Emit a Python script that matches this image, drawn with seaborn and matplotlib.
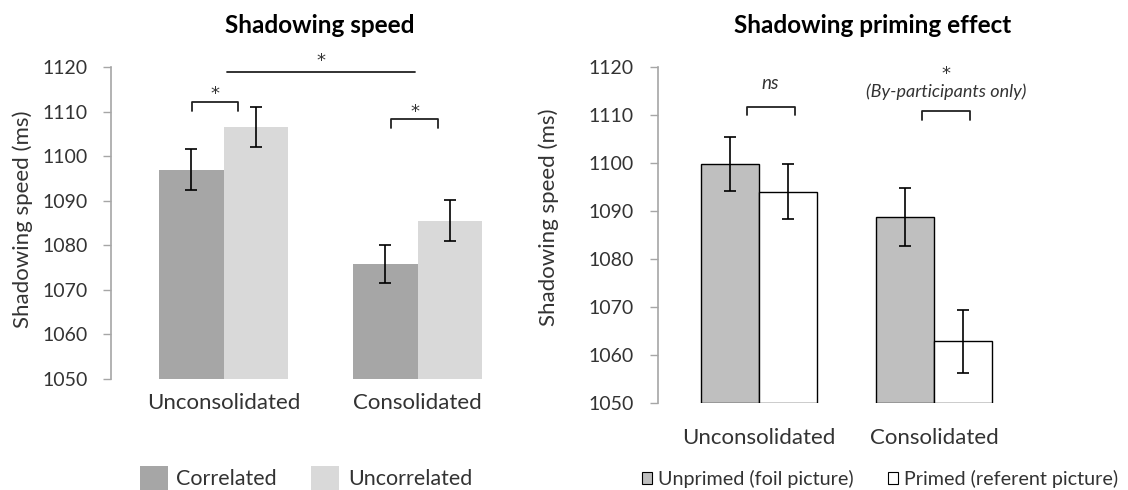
import matplotlib
matplotlib.use("Agg")
import matplotlib.pyplot as plt
from matplotlib.patches import Patch
import seaborn as sns
import pandas as pd

# ---------------- data ----------------
categories = ["Unconsolidated", "Consolidated"]

left_groups = ["Correlated", "Uncorrelated"]
left_correlated = [1097.0, 1075.8]
left_uncorrelated = [1106.5, 1085.5]
left_correlated_err = [4.7, 4.3]
left_uncorrelated_err = [4.5, 4.6]

right_groups = ["Unprimed (foil picture)", "Primed (referent picture)"]
right_unprimed = [1099.7, 1088.7]
right_primed = [1094.0, 1062.9]
right_unprimed_err = [5.6, 6.0]
right_primed_err = [5.7, 6.5]

y_ticks = [1050, 1060, 1070, 1080, 1090, 1100, 1110, 1120]

# ---------------- style ----------------
sns.set_style("ticks")
plt.rcParams["font.family"] = ["Lato", "DejaVu Sans"]
TXT = "#333333"
SPINE = "#a6a6a6"

fig = plt.figure(figsize=(11.28, 4.90), dpi=100)
axL = fig.add_axes([0.0984, 0.2265, 0.3715, 0.6367])
axR = fig.add_axes([0.5830, 0.1769, 0.3348, 0.6870])

dfL = pd.DataFrame({
    "cat": categories * 2,
    "grp": [left_groups[0]] * 2 + [left_groups[1]] * 2,
    "val": left_correlated + left_uncorrelated,
})
errL = [left_correlated_err, left_uncorrelated_err]

dfR = pd.DataFrame({
    "cat": categories * 2,
    "grp": [right_groups[0]] * 2 + [right_groups[1]] * 2,
    "val": right_unprimed + right_primed,
})
errR = [right_unprimed_err, right_primed_err]

palL = {left_groups[0]: "#a6a6a6", left_groups[1]: "#d9d9d9"}
palR = {right_groups[0]: "#bfbfbf", right_groups[1]: "#ffffff"}

sns.barplot(data=dfL, x="cat", y="val", hue="grp", order=categories,
            hue_order=left_groups, palette=palL, saturation=1, width=0.667,
            errorbar=None, legend=False, ax=axL, linewidth=0)
sns.barplot(data=dfR, x="cat", y="val", hue="grp", order=categories,
            hue_order=right_groups, palette=palR, saturation=1, width=0.667,
            errorbar=None, legend=False, ax=axR, edgecolor="black", linewidth=1.0)


def finish(ax, errs, base, xlim, pad):
    for cont, err in zip(ax.containers, errs):
        xs, ys = [], []
        for p in cont.patches:
            h = p.get_height()
            p.set_y(base)
            p.set_height(h - base)
            xs.append(p.get_x() + p.get_width() / 2)
            ys.append(h)
        ax.errorbar(xs, ys, yerr=err, fmt="none", ecolor="black",
                    elinewidth=1.2, capsize=4.5, capthick=1.2, zorder=5)
    ax.set_ylim(1050, 1120)
    ax.set_xlim(*xlim)
    ax.set_yticks(y_ticks)
    ax.set_yticklabels([str(t) for t in y_ticks], fontsize=14, color=TXT)
    ax.tick_params(axis="y", length=6, width=1, color=SPINE, pad=11)
    ax.tick_params(axis="x", length=0, pad=pad, labelsize=16, labelcolor=TXT)
    for s in ["top", "right", "bottom"]:
        ax.spines[s].set_visible(False)
    ax.spines["left"].set_color(SPINE)
    ax.spines["left"].set_linewidth(1.2)
    ax.set_xlabel("")


finish(axL, errL, 1050, (-0.58, 1.58), 10)
finish(axR, errR, 1050, (-0.579, 1.579), 18)

axL.set_ylabel("Shadowing speed (ms)", fontsize=16, color=TXT)
axR.set_ylabel("Shadowing speed (ms)", fontsize=16, color=TXT)
axL.yaxis.set_label_coords(-0.186, 0.513)
axR.yaxis.set_label_coords(-0.262, 0.554)

axL.text(0.499, 1.109, "Shadowing speed", transform=axL.transAxes, ha="center",
         va="baseline", fontsize=17.5, fontweight="bold", color="black")
axR.text(0.568, 1.099, "Shadowing priming effect", transform=axR.transAxes,
         ha="center", va="baseline", fontsize=17.5, fontweight="bold", color="black")

LK = dict(color="#222222", lw=1.3, clip_on=False)
STAR = dict(ha="center", va="baseline", fontsize=13, color=TXT, clip_on=False,
            family="DejaVu Sans")


def bracket(ax, x0, x1, ytop, ylow):
    ax.plot([x0, x0, x1, x1], [ylow, ytop, ytop, ylow], **LK)


# left annotations
bracket(axL, -0.165, 0.077, 1112.2, 1110.2)
axL.text(-0.044, 1112.85, "*", **STAR)
bracket(axL, 0.864, 1.105, 1108.3, 1106.3)
axL.text(0.985, 1108.9, "*", **STAR)
axL.plot([0.02, 0.985], [1118.9, 1118.9], **LK)
axL.text(0.5, 1120.3, "*", **STAR)

# right annotations
bracket(axR, -0.070, 0.207, 1111.7, 1109.9)
axR.text(0.067, 1116.5, "ns", ha="center", va="center", fontsize=13.5,
         style="italic", color=TXT)
bracket(axR, 0.933, 1.206, 1110.8, 1108.9)
axR.text(1.067, 1117.4, "*", **STAR)
axR.text(1.069, 1114.8, "(By-participants only)", ha="center", va="center",
         fontsize=13, style="italic", color=TXT)

# legends
hL = [Patch(facecolor=palL[g], edgecolor="none") for g in left_groups]
fig.legend(hL, left_groups, loc="center", bbox_to_anchor=(306 / 1128, 1 - 478 / 490),
           ncol=2, frameon=False, fontsize=15.5, handlelength=1.3, handleheight=1.3,
           handletextpad=0.4, columnspacing=1.6, labelcolor=TXT)
hR = [Patch(facecolor=palR[g], edgecolor="black", linewidth=0.8) for g in right_groups]
fig.legend(hR, right_groups, loc="center", bbox_to_anchor=(880 / 1128, 1 - 479 / 490),
           ncol=2, frameon=False, fontsize=14.2, handlelength=0.55, handleheight=0.55,
           handletextpad=0.3, columnspacing=1.7, labelcolor=TXT)

fig.savefig("out.png", dpi=100, facecolor="white")
